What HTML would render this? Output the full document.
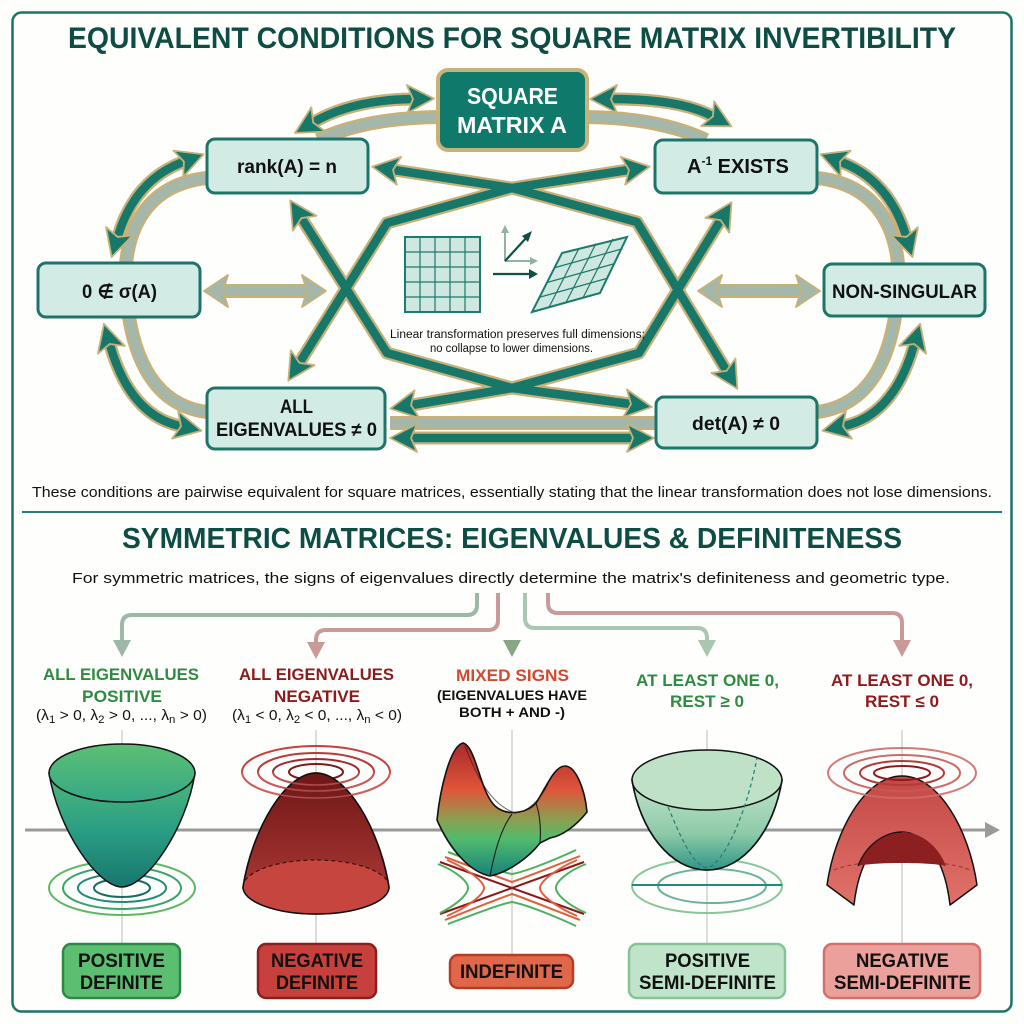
<!DOCTYPE html>
<html><head><meta charset="utf-8"><style>
html,body{margin:0;padding:0;background:#fff}
svg{display:block}
text{font-family:"Liberation Sans","DejaVu Sans",sans-serif}
</style></head><body>
<svg width="1024" height="1024" viewBox="0 0 1024 1024" xmlns="http://www.w3.org/2000/svg">
<defs>
<marker id="mt" viewBox="0 0 30 30" markerWidth="30" markerHeight="30" refX="6" refY="15" orient="auto-start-reverse" markerUnits="userSpaceOnUse">
<path d="M1,1 L28,15 L1,29 L7,15 Z" fill="#17786a" stroke="#c8b07a" stroke-width="1.8" stroke-linejoin="round"/>
</marker>
<marker id="mg" viewBox="0 0 28 34" markerWidth="28" markerHeight="34" refX="5" refY="17" orient="auto-start-reverse" markerUnits="userSpaceOnUse">
<path d="M1,1 L25,17 L1,33 L6,17 Z" fill="#a3b8ab" stroke="#c8b07a" stroke-width="1.8" stroke-linejoin="round"/>
</marker>
<linearGradient id="gPD" x1="0" y1="0" x2="0" y2="1"><stop offset="0" stop-color="#4fb878"/><stop offset="0.5" stop-color="#2a9e84"/><stop offset="1" stop-color="#18766e"/></linearGradient>
<linearGradient id="gPDr" x1="0" y1="0" x2="0" y2="1"><stop offset="0" stop-color="#5cbf74"/><stop offset="1" stop-color="#35a886"/></linearGradient>
<linearGradient id="gND" x1="0" y1="0" x2="0" y2="1"><stop offset="0" stop-color="#6d1717"/><stop offset="1" stop-color="#b53d38"/></linearGradient>
<linearGradient id="gSad" x1="0" y1="0" x2="0" y2="1"><stop offset="0" stop-color="#a82a2a"/><stop offset="0.35" stop-color="#e0553a"/><stop offset="0.58" stop-color="#8aa050"/><stop offset="0.72" stop-color="#52bb6c"/><stop offset="1" stop-color="#16827a"/></linearGradient>
<linearGradient id="gPSD" x1="0" y1="0" x2="0" y2="1"><stop offset="0" stop-color="#c3e4cc"/><stop offset="0.6" stop-color="#8ccaa8"/><stop offset="1" stop-color="#2f9686"/></linearGradient>
<linearGradient id="gNSD" x1="0" y1="0" x2="0" y2="1"><stop offset="0" stop-color="#c44844"/><stop offset="1" stop-color="#e0726a"/></linearGradient>
<linearGradient id="gC" x1="0" y1="0" x2="0" y2="1"><stop offset="0" stop-color="#c0958a"/><stop offset="1" stop-color="#86a684"/></linearGradient>
</defs>

<rect x="0" y="0" width="1024" height="1024" fill="#fefefd"/>
<rect x="12.5" y="12.5" width="999" height="999" rx="9" fill="none" stroke="#1f7268" stroke-width="2.5"/>

<!-- Title -->
<text x="68" y="48" font-size="30" font-weight="bold" fill="#0e4d43" textLength="888" lengthAdjust="spacingAndGlyphs">EQUIVALENT CONDITIONS FOR SQUARE MATRIX INVERTIBILITY</text>

<!-- gray bands -->
<g fill="none" stroke-linecap="butt">
<g stroke="#c8b07a" stroke-width="14">
<path d="M318,140 Q365,118 438,117"/>
<path d="M587,117 Q660,118 706,140"/>
<path d="M207,178 C140,185 122,240 126,290 C130,350 150,405 207,412"/>
<path d="M817,178 C884,185 902,240 898,290 C894,350 874,405 817,412"/>
<path d="M390,423 L655,423"/>
</g>
<g stroke="#a3b8ab" stroke-width="9">
<path d="M318,140 Q365,118 438,117"/>
<path d="M587,117 Q660,118 706,140"/>
<path d="M207,178 C140,185 122,240 126,290 C130,350 150,405 207,412"/>
<path d="M817,178 C884,185 902,240 898,290 C894,350 874,405 817,412"/>
<path d="M390,423 L655,423"/>
</g>
</g>

<!-- teal arrows -->
<g fill="none" stroke-linejoin="round">
<g stroke="#c8b07a" stroke-width="13">
<path d="M314,122 Q352,100 412,99"/>
<path d="M612,99 Q680,99 712,116"/>
<path d="M183,162 Q135,180 118,236"/>
<path d="M110,345 Q130,415 180,426"/>
<path d="M841,162 Q889,180 906,236"/>
<path d="M914,345 Q894,415 844,426"/>
<path d="M300,362 L387,223 L512,188 L628,170"/>
<path d="M394,170 L512,188 L637,222 L726,370"/>
<path d="M302,219 L387,353 L512,388 L630,404"/>
<path d="M720,221 L639,353 L512,388 L412,405"/>
<path d="M412,438 L632,438"/>
</g>
<g stroke="#17786a" stroke-width="8.5" marker-start="url(#mt)" marker-end="url(#mt)">
<path d="M314,122 Q352,100 412,99"/>
<path d="M612,99 Q680,99 712,116"/>
<path d="M183,162 Q135,180 118,236"/>
<path d="M110,345 Q130,415 180,426"/>
<path d="M841,162 Q889,180 906,236"/>
<path d="M914,345 Q894,415 844,426"/>
<path d="M300,362 L387,223 L512,188 L628,170"/>
<path d="M394,170 L512,188 L637,222 L726,370"/>
<path d="M302,219 L387,353 L512,388 L630,404"/>
<path d="M720,221 L639,353 L512,388 L412,405"/>
<path d="M412,438 L632,438"/>
</g>
</g>

<!-- gray horizontal double arrows -->
<g fill="none">
<path d="M224,291 L306,291" stroke="#c8b07a" stroke-width="14"/>
<path d="M718,291 L800,291" stroke="#c8b07a" stroke-width="14"/>
<path d="M224,291 L306,291" stroke="#a3b8ab" stroke-width="9.5" marker-start="url(#mg)" marker-end="url(#mg)"/>
<path d="M718,291 L800,291" stroke="#a3b8ab" stroke-width="9.5" marker-start="url(#mg)" marker-end="url(#mg)"/>
</g>

<!-- center graphic -->
<g>
<rect x="405" y="237" width="75" height="75" fill="#cfe7e1" stroke="#1d7a6c" stroke-width="2"/>
<g stroke="#1d7a6c" stroke-width="1.2">
<line x1="420" y1="237" x2="420" y2="312"/><line x1="435" y1="237" x2="435" y2="312"/><line x1="450" y1="237" x2="450" y2="312"/><line x1="465" y1="237" x2="465" y2="312"/>
<line x1="405" y1="252" x2="480" y2="252"/><line x1="405" y1="267" x2="480" y2="267"/><line x1="405" y1="282" x2="480" y2="282"/><line x1="405" y1="297" x2="480" y2="297"/>
</g>
<g stroke="#8fb3a5" stroke-width="2" fill="#8fb3a5">
<line x1="505" y1="261" x2="505" y2="232"/><polygon points="505,225 501,233 509,233" stroke="none"/>
<line x1="505" y1="261" x2="531" y2="261"/><polygon points="538,261 530,257 530,265" stroke="none"/>
</g>
<g stroke="#0f4f45" stroke-width="2.2" fill="#0f4f45">
<line x1="505" y1="261" x2="527" y2="237"/><polygon points="532,231 522,236 528,242" stroke="none"/>
<line x1="493" y1="274" x2="530" y2="274"/><polygon points="538,274 529,269 529,279" stroke="none"/>
</g>
<polygon points="532,312 600,293 627,237 562,253" fill="#cfe7e1" stroke="#1d7a6c" stroke-width="2"/>
<g stroke="#1d7a6c" stroke-width="1.2">
<line x1="549" y1="307.25" x2="579" y2="248.25"/><line x1="566" y1="302.5" x2="596" y2="243.5"/><line x1="583" y1="297.75" x2="613" y2="238.75"/>
<line x1="539.5" y1="297.25" x2="607.5" y2="278.25"/><line x1="547" y1="282.5" x2="615" y2="263.5"/><line x1="554.5" y1="267.75" x2="622.5" y2="248.75"/>
</g>
<text x="390" y="338" font-size="11.5" fill="#111" textLength="255" lengthAdjust="spacingAndGlyphs">Linear transformation preserves full dimensions;</text>
<text x="430" y="352" font-size="11.5" fill="#111" textLength="163" lengthAdjust="spacingAndGlyphs">no collapse to lower dimensions.</text>
</g>

<!-- nodes -->
<g stroke="#1d7569" stroke-width="3" fill="#d3ebe5">
<rect x="207" y="139" width="161" height="54" rx="8"/>
<rect x="655" y="140" width="162" height="53" rx="8"/>
<rect x="38" y="263" width="162" height="54" rx="8"/>
<rect x="824" y="264" width="161" height="52" rx="8"/>
<rect x="207" y="388" width="178" height="61" rx="8"/>
<rect x="656" y="397" width="161" height="51" rx="8"/>
</g>
<rect x="438" y="70" width="149" height="80" rx="10" fill="#0f7a6c" stroke="#c9b27a" stroke-width="4"/>
<g font-weight="bold" fill="#111" font-size="19">
<text x="237" y="173" textLength="100" lengthAdjust="spacingAndGlyphs">rank(A) = n</text>
<text x="687" y="173" font-size="20">A<tspan dy="-8" font-size="12">-1</tspan><tspan dy="8"> EXISTS</tspan></text>
<text x="82" y="298" textLength="75" lengthAdjust="spacingAndGlyphs">0 ∉ σ(A)</text>
<text x="832" y="298" textLength="145" lengthAdjust="spacingAndGlyphs">NON-SINGULAR</text>
<text x="280" y="413" textLength="33" lengthAdjust="spacingAndGlyphs">ALL</text>
<text x="216" y="436" textLength="161" lengthAdjust="spacingAndGlyphs">EIGENVALUES ≠ 0</text>
<text x="692" y="430" textLength="88" lengthAdjust="spacingAndGlyphs">det(A) ≠ 0</text>
</g>
<g font-weight="bold" fill="#ffffff" font-size="23">
<text x="467" y="104" textLength="91" lengthAdjust="spacingAndGlyphs">SQUARE</text>
<text x="457" y="133" textLength="110" lengthAdjust="spacingAndGlyphs">MATRIX A</text>
</g>

<text x="32" y="497" font-size="15" fill="#111" textLength="960" lengthAdjust="spacingAndGlyphs">These conditions are pairwise equivalent for square matrices, essentially stating that the linear transformation does not lose dimensions.</text>
<line x1="22" y1="512" x2="1002" y2="512" stroke="#2a7a70" stroke-width="2"/>

<text x="122" y="548" font-size="29" font-weight="bold" fill="#0e4d43" textLength="780" lengthAdjust="spacingAndGlyphs">SYMMETRIC MATRICES: EIGENVALUES &amp; DEFINITENESS</text>
<text x="72" y="583" font-size="15" fill="#111" textLength="878" lengthAdjust="spacingAndGlyphs">For symmetric matrices, the signs of eigenvalues directly determine the matrix's definiteness and geometric type.</text>

<!-- branch connectors -->
<g fill="none" stroke-width="4">
<path d="M477,593 L477,605 Q477,615 467,615 L132,615 Q122,615 122,625 L122,643" stroke="#9db8a6"/>
<path d="M498,593 L498,620 Q498,630 488,630 L326,630 Q316,630 316,640 L316,645" stroke="#c99a98"/>
<path d="M512,593 L512,643" stroke="url(#gC)"/>
<path d="M525,593 L525,618 Q525,628 535,628 L697,628 Q707,628 707,638 L707,643" stroke="#a8c6b0"/>
<path d="M548,593 L548,603 Q548,613 558,613 L892,613 Q902,613 902,623 L902,643" stroke="#c99a98"/>
</g>
<polygon points="113,640 131,640 122,657" fill="#9db8a6"/>
<polygon points="307,642 325,642 316,659" fill="#c99a98"/>
<polygon points="503,640 521,640 512,657" fill="#86a684"/>
<polygon points="698,640 716,640 707,657" fill="#a8c6b0"/>
<polygon points="893,640 911,640 902,657" fill="#c99a98"/>

<!-- category headers -->
<g font-weight="bold" font-size="17">
<text x="43" y="680" fill="#2e8b3f" textLength="156" lengthAdjust="spacingAndGlyphs">ALL EIGENVALUES</text>
<text x="82" y="702" fill="#2e8b3f" textLength="80" lengthAdjust="spacingAndGlyphs">POSITIVE</text>
<text x="239" y="680" fill="#8e1b1b" textLength="155" lengthAdjust="spacingAndGlyphs">ALL EIGENVALUES</text>
<text x="274" y="702" fill="#8e1b1b" textLength="86" lengthAdjust="spacingAndGlyphs">NEGATIVE</text>
<text x="456" y="681" fill="#d5482e" textLength="113" lengthAdjust="spacingAndGlyphs">MIXED SIGNS</text>
<text x="437" y="700" fill="#111" font-size="14" textLength="150" lengthAdjust="spacingAndGlyphs">(EIGENVALUES HAVE</text>
<text x="459" y="717" fill="#111" font-size="14" textLength="106" lengthAdjust="spacingAndGlyphs">BOTH + AND -)</text>
<text x="636" y="686" fill="#2e8b3f" textLength="143" lengthAdjust="spacingAndGlyphs">AT LEAST ONE 0,</text>
<text x="670" y="707" fill="#2e8b3f" textLength="74" lengthAdjust="spacingAndGlyphs">REST ≥ 0</text>
<text x="831" y="686" fill="#8e1b1b" textLength="142" lengthAdjust="spacingAndGlyphs">AT LEAST ONE 0,</text>
<text x="865" y="707" fill="#8e1b1b" textLength="74" lengthAdjust="spacingAndGlyphs">REST ≤ 0</text>
</g>
<g font-size="15" fill="#111">
<text x="36" y="720" textLength="171" lengthAdjust="spacingAndGlyphs">(λ<tspan dy="3" font-size="11">1</tspan><tspan dy="-3"> &gt; 0, λ</tspan><tspan dy="3" font-size="11">2</tspan><tspan dy="-3"> &gt; 0, ..., λ</tspan><tspan dy="3" font-size="11">n</tspan><tspan dy="-3"> &gt; 0)</tspan></text>
<text x="232" y="720" textLength="170" lengthAdjust="spacingAndGlyphs">(λ<tspan dy="3" font-size="11">1</tspan><tspan dy="-3"> &lt; 0, λ</tspan><tspan dy="3" font-size="11">2</tspan><tspan dy="-3"> &lt; 0, ..., λ</tspan><tspan dy="3" font-size="11">n</tspan><tspan dy="-3"> &lt; 0)</tspan></text>
</g>

<!-- vertical guide lines -->
<g stroke="#d2d2d2" stroke-width="1.5">
<line x1="122" y1="730" x2="122" y2="944"/>
<line x1="316" y1="730" x2="316" y2="944"/>
<line x1="512" y1="730" x2="512" y2="955"/>
<line x1="707" y1="730" x2="707" y2="944"/>
<line x1="902" y1="730" x2="902" y2="944"/>
</g>
<!-- axis -->
<line x1="25" y1="830" x2="988" y2="830" stroke="#9a9a9a" stroke-width="3"/>
<polygon points="985,822 1000,830 985,838" fill="#9a9a9a"/>

<!-- Positive definite -->
<g fill="none" stroke-width="2">
<ellipse cx="122" cy="888" rx="73" ry="27" stroke="#5cb860"/>
<ellipse cx="122" cy="888" rx="59" ry="21" stroke="#3aa36c"/>
<ellipse cx="122" cy="888" rx="44" ry="14" stroke="#1f8a76"/>
<ellipse cx="122" cy="888" rx="28" ry="9" stroke="#166e62"/>
</g>
<path d="M49,773 C58,830 98,887 122,887 C146,887 186,830 195,773 Z" fill="url(#gPD)" stroke="#111" stroke-width="1.5"/>
<ellipse cx="122" cy="773" rx="73" ry="29" fill="url(#gPDr)" stroke="#111" stroke-width="1.5"/>

<!-- Negative definite -->
<g fill="none" stroke-width="2">
<ellipse cx="316" cy="772" rx="74" ry="26" stroke="#c8403c"/>
<ellipse cx="316" cy="772" rx="58" ry="19" stroke="#b83a36"/>
<ellipse cx="316" cy="772" rx="43" ry="13" stroke="#9e2a2a"/>
<ellipse cx="316" cy="772" rx="27" ry="8" stroke="#7a1a1a"/>
</g>
<path d="M243,887 C252,830 285,773 316,773 C347,773 380,830 389,887 A73 27 0 0 1 243,887 Z" fill="url(#gND)" stroke="#111" stroke-width="1.5"/>
<path d="M243,887 A73 27 0 0 0 389,887 A73 27 0 0 0 243,887 Z" fill="#c6463f"/>
<path d="M243,887 A73 27 0 0 1 389,887" fill="none" stroke="#3a1010" stroke-width="1.2" stroke-dasharray="4,3"/>
<path d="M243,887 A73 27 0 0 0 389,887" fill="none" stroke="#111" stroke-width="1.5"/>
<path d="M243,887 C252,830 285,773 316,773 C347,773 380,830 389,887" fill="none" stroke="#111" stroke-width="1.5"/>
<g fill="none" stroke-width="1.6" opacity="0.55">
<path d="M242,772 A74 26 0 0 0 390,772" stroke="#e07070"/>
<path d="M258,772 A58 19 0 0 0 374,772" stroke="#e07070"/>
<path d="M273,772 A43 13 0 0 0 359,772" stroke="#e07070"/>
</g>

<!-- Indefinite saddle contours -->
<g fill="none" stroke-width="2">
<path d="M440,862 L584,914" stroke="#8a1818"/>
<path d="M440,914 L584,862" stroke="#8a1818"/>
<path d="M445,857 C470,866 500,878 512,882 C524,878 554,866 580,856" stroke="#e0603e"/>
<path d="M445,920 C470,910 500,898 512,894 C524,898 554,910 580,920" stroke="#e0603e"/>
<path d="M448,852 C475,862 500,872 512,874 C524,872 550,862 576,850" stroke="#4cb060"/>
<path d="M448,924 C475,914 500,904 512,902 C524,904 550,914 576,926" stroke="#4cb060"/>
<path d="M447,860 C470,870 484,882 484,888 C484,894 470,906 447,916" stroke="#e0603e"/>
<path d="M577,860 C554,870 540,882 540,888 C540,894 554,906 577,916" stroke="#e0603e"/>
<path d="M438,864 C458,872 468,882 468,888 C468,894 458,904 440,913" stroke="#4cb060"/>
<path d="M586,864 C566,872 556,882 556,888 C556,894 566,904 586,913" stroke="#4cb060"/>
</g>
<!-- saddle surface -->
<path d="M463,743 C450,746 440,790 437,820 C450,850 470,872 490,876 C510,872 530,856 540,843 L550,838 C562,836 576,826 587,812 C585,790 576,766 565,766 C554,766 546,788 536,803 C526,814 506,816 495,806 C480,792 476,746 463,743 Z" fill="url(#gSad)" stroke="#111" stroke-width="1.6"/>
<path d="M465,746 C478,780 492,805 515,813 C528,812 540,800 548,784" fill="none" stroke="#2a1a1a" stroke-width="1" opacity="0.7"/>
<path d="M512,814 C500,830 494,855 490,876" fill="none" stroke="#1a1a1a" stroke-width="1.1"/>
<path d="M536,803 C540,815 541,830 540,843" fill="none" stroke="#1a1a1a" stroke-width="1.1"/>

<!-- PSD -->
<g fill="none" stroke-width="2">
<ellipse cx="707" cy="886" rx="75" ry="27" stroke="#86c896"/>
<ellipse cx="712" cy="886" rx="54" ry="17" stroke="#6bb49a"/>
</g>
<line x1="632" y1="885" x2="782" y2="885" stroke="#1f8a80" stroke-width="2"/>
<path d="M632,780 C640,830 670,870 707,870 C744,870 774,830 782,780 Z" fill="url(#gPSD)" stroke="#111" stroke-width="1.5"/>
<ellipse cx="707" cy="780" rx="75" ry="30" fill="#bfe1c8" stroke="#111" stroke-width="1.5"/>
<path d="M668,807 C680,835 692,865 707,868 C722,865 745,820 757,758" fill="none" stroke="#2a7a6e" stroke-width="1.2" stroke-dasharray="4,3"/>
<path d="M632,780 C640,830 670,870 707,870 C744,870 774,830 782,780" fill="none" stroke="#111" stroke-width="1.5"/>

<!-- NSD -->
<path d="M827,885 C835,830 865,776 902,776 C939,776 969,830 977,885 L950,905 C945,860 925,832 902,832 C879,832 859,860 854,905 Z" fill="url(#gNSD)" stroke="#111" stroke-width="1.5" stroke-linejoin="round"/>
<path d="M858,866 C866,845 884,832 902,832 C920,832 938,845 946,866 C930,862 874,862 858,866 Z" fill="#8c2020"/>
<path d="M902,832 C884,832 866,845 858,866" fill="none" stroke="#111" stroke-width="1.2"/>
<path d="M834,870 C860,858 944,858 970,870" fill="none" stroke="#7a2020" stroke-width="1" stroke-dasharray="4,3" opacity="0.7"/>
<g fill="none" stroke-width="2">
<ellipse cx="902" cy="773" rx="74" ry="25" stroke="#d06a66" opacity="0.9"/>
<ellipse cx="902" cy="773" rx="58" ry="18" stroke="#c85a56" opacity="0.9"/>
<ellipse cx="902" cy="773" rx="42" ry="12" stroke="#b23c38"/>
<ellipse cx="902" cy="773" rx="28" ry="7" stroke="#8a1c1c"/>
</g>

<!-- bottom label boxes -->
<rect x="63" y="944" width="117" height="54" rx="8" fill="#5cbe70" stroke="#2a8a45" stroke-width="2.5"/>
<rect x="258" y="944" width="118" height="54" rx="8" fill="#c8403c" stroke="#8c1e1e" stroke-width="2.5"/>
<rect x="450" y="955" width="123" height="33" rx="8" fill="#e0674a" stroke="#b73c24" stroke-width="2.5"/>
<rect x="629" y="944" width="156" height="54" rx="8" fill="#c0e4c9" stroke="#86c497" stroke-width="2.5"/>
<rect x="824" y="944" width="156" height="54" rx="8" fill="#eba09c" stroke="#d4706b" stroke-width="2.5"/>
<g font-weight="bold" font-size="19" fill="#111">
<text x="78" y="967" textLength="87" lengthAdjust="spacingAndGlyphs">POSITIVE</text>
<text x="80" y="989" textLength="83" lengthAdjust="spacingAndGlyphs">DEFINITE</text>
<text x="271" y="967" textLength="92" lengthAdjust="spacingAndGlyphs">NEGATIVE</text>
<text x="276" y="989" textLength="82" lengthAdjust="spacingAndGlyphs">DEFINITE</text>
<text x="460" y="978" textLength="103" lengthAdjust="spacingAndGlyphs">INDEFINITE</text>
<text x="665" y="967" textLength="85" lengthAdjust="spacingAndGlyphs">POSITIVE</text>
<text x="639" y="989" textLength="137" lengthAdjust="spacingAndGlyphs">SEMI-DEFINITE</text>
<text x="856" y="967" textLength="93" lengthAdjust="spacingAndGlyphs">NEGATIVE</text>
<text x="834" y="989" textLength="137" lengthAdjust="spacingAndGlyphs">SEMI-DEFINITE</text>
</g>
</svg>
</body></html>
